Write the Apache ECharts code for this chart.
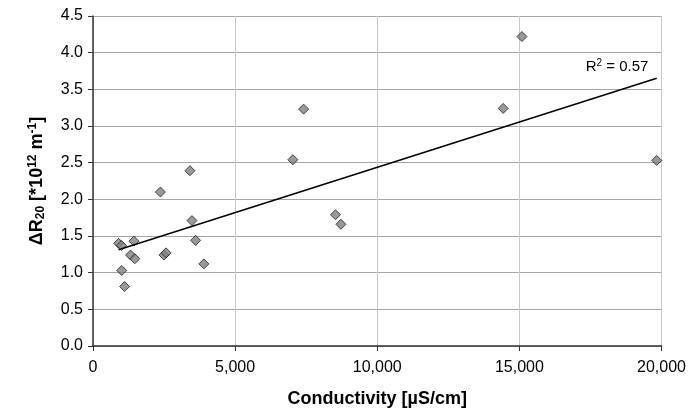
<!DOCTYPE html>
<html>
<head>
<meta charset="utf-8">
<script src="https://cdn.jsdelivr.net/npm/echarts@6/dist/echarts.min.js"></script>
<style>
  html, body { margin: 0; padding: 0; background: #fff; }
  #chart { width: 689px; height: 414px; }
</style>
</head>
<body>
<div id="chart"></div>
<script>
// 数据
var conductivity = [900, 1000, 1440, 1320, 1470, 1010, 1110, 2370, 2500, 2570, 3410, 3480, 3610, 3900, 7410, 7030, 8530, 8720, 15090, 14430, 19830];
var dR20 = [1.40, 1.37, 1.43, 1.24, 1.19, 1.03, 0.81, 2.10, 1.24, 1.27, 2.39, 1.71, 1.44, 1.12, 3.23, 2.54, 1.79, 1.66, 4.22, 3.24, 2.53];
var xTicks = [0, 5000, 10000, 15000, 20000];
var yTicks = [0, 0.5, 1, 1.5, 2, 2.5, 3, 3.5, 4, 4.5];

(function () {
    var font = 'Arial, "Liberation Sans", sans-serif';

    var points = conductivity.map(function (x, i) { return [x, dR20[i]]; });

    // linear trend line (least squares) + R²
    var n = points.length, mx = 0, my = 0;
    points.forEach(function (p) { mx += p[0]; my += p[1]; });
    mx /= n; my /= n;
    var sxy = 0, sxx = 0, syy = 0;
    points.forEach(function (p) {
        sxy += (p[0] - mx) * (p[1] - my);
        sxx += (p[0] - mx) * (p[0] - mx);
        syy += (p[1] - my) * (p[1] - my);
    });
    var slope = sxy / sxx;
    var icpt = my - slope * mx;
    var r2 = sxy * sxy / (sxx * syy);
    var xMin = Math.min.apply(null, conductivity);
    var xMax = Math.max.apply(null, conductivity);
    var trend = [
        [xMin, icpt + slope * xMin],
        [xMax, icpt + slope * xMax]
    ];

    var myechart = echarts.init(document.getElementById('chart'));
    var option = {
        animation: false,
        backgroundColor: '#fff',
        grid: {
            left: 93,
            right: 25,
            top: 16,
            bottom: 68
        },
        xAxis: {
            type: 'value',
            min: xTicks[0],
            max: xTicks[xTicks.length - 1],
            interval: xTicks[1] - xTicks[0],
            name: 'Conductivity [µS/cm]',
            nameLocation: 'middle',
            nameGap: 44,
            nameTextStyle: { fontFamily: font, fontSize: 18, fontWeight: 'bold', color: '#000' },
            axisLine: { lineStyle: { color: '#333', width: 1.5 } },
            axisTick: { show: true, length: 5, lineStyle: { color: '#333' } },
            axisLabel: {
                margin: 14,
                fontFamily: font,
                fontSize: 16,
                color: '#000',
                formatter: function (v) { return String(v).replace(/\B(?=(\d{3})+(?!\d))/g, ','); }
            },
            splitLine: { show: true, lineStyle: { color: '#c8c8c8', width: 1 } }
        },
        yAxis: {
            type: 'value',
            min: yTicks[0],
            max: yTicks[yTicks.length - 1],
            interval: yTicks[1] - yTicks[0],
            name: '{b|ΔR}{sub|20}{b| [*10}{sup|12}{b| m}{sup|-1}{b|]}',
            nameLocation: 'middle',
            nameGap: 46,
            nameTextStyle: {
                fontFamily: font, fontSize: 18, fontWeight: 'bold', color: '#000',
                rich: {
                    b: { fontFamily: font, fontSize: 18, fontWeight: 'bold', color: '#000' },
                    sub: { fontFamily: font, fontSize: 12, fontWeight: 'bold', color: '#000', verticalAlign: 'bottom', padding: [8, 0, 0, 0] },
                    sup: { fontFamily: font, fontSize: 12, fontWeight: 'bold', color: '#000', verticalAlign: 'top', padding: [0, 0, 8, 0] }
                }
            },
            axisLine: { show: true, lineStyle: { color: '#333', width: 1.5 } },
            axisTick: { show: true, length: 5, lineStyle: { color: '#333' } },
            axisLabel: {
                margin: 10,
                fontFamily: font,
                fontSize: 16,
                color: '#000',
                formatter: function (v) { return v.toFixed(1); }
            },
            splitLine: { show: true, lineStyle: { color: '#a6a6a6', width: 1 } }
        },
        series: [
            {
                name: 'data',
                type: 'scatter',
                symbol: 'diamond',
                symbolSize: 10,
                itemStyle: { color: '#808080', borderColor: '#222', borderWidth: 1 },
                data: points,
                z: 2
            },
            {
                name: 'trend',
                type: 'line',
                showSymbol: false,
                symbol: 'none',
                lineStyle: { color: '#000', width: 1.5 },
                data: trend,
                z: 3,
                endLabel: {
                    show: true,
                    align: 'left',
                    offset: [-79, -11],
                    formatter: 'R{sup|2} = ' + r2.toFixed(2),
                    color: '#000',
                    fontFamily: font,
                    fontSize: 15,
                    rich: {
                        sup: { fontSize: 10, verticalAlign: 'top', fontFamily: font, color: '#000', padding: [0, 0, 7, 0] }
                    }
                }
            }
        ]
    };
    myechart.setOption(option);
    window.addEventListener('resize', function () {
        myechart.resize();
    });
})();
</script>
</body>
</html>
